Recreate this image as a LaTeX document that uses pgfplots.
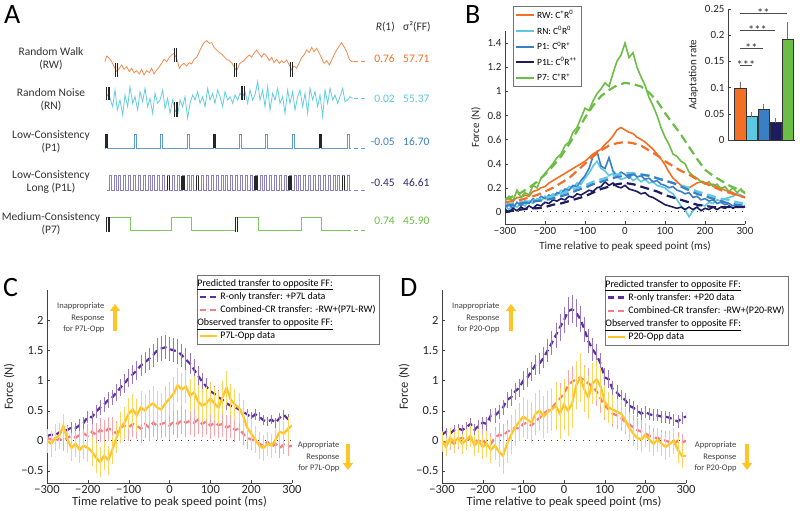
\documentclass[border=0pt]{standalone}
\usepackage{fontspec}
\setmainfont{Carlito}
\usepackage{pgfplots}
\usepackage{pgfplotstable}
\pgfplotsset{compat=1.18}
\usetikzlibrary{arrows.meta}

\definecolor{rwc}{HTML}{F26F25}
\definecolor{rnc}{HTML}{5CC8E4}
\definecolor{p1c}{HTML}{3A7FC6}
\definecolor{p1lc}{HTML}{1C1C5E}
\definecolor{p7c}{HTML}{6CBD45}
\definecolor{rwa}{HTML}{F38A4E}
\definecolor{rna}{HTML}{62CDE3}
\definecolor{p1a}{HTML}{5E9AD6}
\definecolor{p1la}{HTML}{8A80C4}
\definecolor{p7a}{HTML}{7DC95A}
\definecolor{p1lv}{HTML}{2E2A70}
\definecolor{purp}{HTML}{5E2E9E}
\definecolor{pink}{HTML}{F37E86}
\definecolor{yel}{HTML}{FFC425}
\definecolor{axc}{HTML}{404040}

% panel B: measured responses (10 ms) and model fits (20 ms)
\pgfplotstableread{
x rw rn p1 p1l p7
-300 0.10 0.05 0.04 0.02 0.10
-290 0.11 0.02 0.06 0.00 0.13
-280 0.09 0.06 0.03 0.03 0.09
-270 0.12 0.04 0.08 0.01 0.18
-260 0.12 0.07 0.05 0.04 0.12
-250 0.14 0.05 0.09 0.02 0.16
-240 0.13 0.09 0.07 0.05 0.14
-230 0.17 0.07 0.11 0.03 0.22
-220 0.18 0.11 0.09 0.06 0.20
-210 0.20 0.09 0.13 0.05 0.28
-200 0.21 0.13 0.11 0.08 0.32
-190 0.24 0.12 0.14 0.07 0.36
-180 0.26 0.15 0.12 0.10 0.40
-170 0.28 0.14 0.16 0.09 0.45
-160 0.30 0.18 0.15 0.11 0.48
-150 0.32 0.17 0.19 0.10 0.55
-140 0.34 0.21 0.18 0.13 0.58
-130 0.36 0.20 0.22 0.12 0.66
-120 0.38 0.24 0.21 0.15 0.70
-110 0.40 0.23 0.26 0.14 0.78
-100 0.42 0.28 0.30 0.16 0.86
-90 0.45 0.32 0.36 0.18 0.84
-80 0.48 0.38 0.46 0.17 0.92
-70 0.50 0.42 0.50 0.20 0.98
-60 0.52 0.36 0.38 0.21 1.02
-50 0.56 0.34 0.36 0.25 1.07
-40 0.59 0.30 0.45 0.22 1.04
-30 0.63 0.32 0.34 0.24 1.15
-20 0.68 0.29 0.30 0.21 1.25
-10 0.70 0.27 0.33 0.20 1.30
0 0.68 0.28 0.31 0.22 1.40
10 0.66 0.30 0.28 0.19 1.28
20 0.65 0.26 0.32 0.18 1.32
30 0.62 0.28 0.29 0.17 1.20
40 0.60 0.25 0.30 0.15 1.12
50 0.58 0.27 0.27 0.16 1.05
60 0.55 0.24 0.28 0.13 0.95
70 0.52 0.25 0.25 0.12 0.88
80 0.48 0.22 0.26 0.10 0.80
90 0.44 0.21 0.23 0.08 0.70
100 0.39 0.20 0.22 0.06 0.62
110 0.33 0.17 0.20 0.05 0.56
120 0.28 0.15 0.21 0.04 0.48
130 0.25 0.10 0.18 0.03 0.46
140 0.22 0.05 0.17 0.04 0.42
150 0.20 0.02 0.15 0.02 0.40
160 0.20 -0.04 0.16 0.04 0.33
170 0.22 0.01 0.12 0.02 0.30
180 0.24 0.04 0.13 0.04 0.28
190 0.25 0.06 0.10 0.01 0.25
200 0.24 0.05 0.11 0.03 0.23
210 0.22 0.08 0.09 0.02 0.25
220 0.23 0.07 0.10 0.04 0.21
230 0.21 0.10 0.07 0.02 0.23
240 0.20 0.09 0.08 0.04 0.19
250 0.18 0.11 0.06 0.03 0.21
260 0.17 0.12 0.07 0.05 0.17
270 0.16 0.13 0.05 0.03 0.20
280 0.14 0.15 0.06 0.05 0.16
290 0.13 0.14 0.04 0.04 0.19
300 0.12 0.12 0.05 0.04 0.15
}\bdata

\pgfplotstableread{
x rw rn p1 p1l p7
-300 0.08 0.06 0.05 0.00 0.10
-280 0.09 0.07 0.06 0.01 0.13
-260 0.10 0.08 0.07 0.02 0.16
-240 0.12 0.09 0.08 0.03 0.20
-220 0.14 0.10 0.09 0.03 0.25
-200 0.17 0.12 0.10 0.04 0.31
-180 0.20 0.13 0.11 0.06 0.38
-160 0.24 0.15 0.13 0.07 0.46
-140 0.28 0.17 0.15 0.09 0.56
-120 0.34 0.20 0.18 0.11 0.67
-100 0.40 0.22 0.20 0.13 0.78
-80 0.46 0.25 0.23 0.16 0.88
-60 0.51 0.27 0.25 0.19 0.96
-40 0.55 0.29 0.27 0.21 1.01
-20 0.57 0.31 0.29 0.23 1.05
0 0.58 0.32 0.30 0.24 1.07
20 0.57 0.32 0.31 0.23 1.06
40 0.55 0.31 0.31 0.21 1.04
60 0.51 0.30 0.30 0.19 0.99
80 0.47 0.28 0.28 0.17 0.92
100 0.42 0.26 0.26 0.14 0.82
120 0.38 0.24 0.24 0.12 0.73
140 0.34 0.22 0.21 0.10 0.64
160 0.31 0.20 0.18 0.08 0.54
180 0.27 0.17 0.15 0.06 0.44
200 0.24 0.15 0.13 0.05 0.35
220 0.21 0.13 0.11 0.04 0.30
240 0.18 0.11 0.09 0.04 0.26
260 0.16 0.10 0.07 0.04 0.22
280 0.14 0.08 0.06 0.04 0.19
300 0.12 0.07 0.05 0.04 0.16
}\bfit

% panels C and D: x, mean, sem
\pgfplotstableread{
x y e
-300 0.08 0.06
-290 0.10 0.06
-280 0.09 0.07
-270 0.14 0.07
-260 0.16 0.08
-250 0.18 0.08
-240 0.22 0.09
-230 0.21 0.09
-220 0.26 0.10
-210 0.30 0.10
-200 0.40 0.10
-190 0.39 0.11
-180 0.48 0.11
-170 0.55 0.12
-160 0.60 0.12
-150 0.68 0.13
-140 0.72 0.13
-130 0.80 0.14
-120 0.88 0.14
-110 0.95 0.15
-100 1.04 0.15
-90 1.10 0.16
-80 1.17 0.16
-70 1.25 0.17
-60 1.30 0.18
-50 1.36 0.18
-40 1.42 0.19
-30 1.50 0.20
-20 1.53 0.20
-10 1.55 0.20
0 1.52 0.20
10 1.50 0.20
20 1.48 0.20
30 1.42 0.19
40 1.35 0.19
50 1.28 0.18
60 1.18 0.17
70 1.08 0.16
80 0.98 0.15
90 0.90 0.14
100 0.82 0.13
110 0.78 0.12
120 0.72 0.12
130 0.68 0.11
140 0.62 0.11
150 0.58 0.10
160 0.56 0.10
170 0.52 0.10
180 0.48 0.10
190 0.44 0.09
200 0.38 0.09
210 0.44 0.09
220 0.40 0.08
230 0.34 0.08
240 0.32 0.08
250 0.35 0.08
260 0.30 0.08
270 0.38 0.08
280 0.43 0.08
290 0.36 0.08
300 0.34 0.08
}\cpurp

\pgfplotstableread{
x y e
-300 0.05 0.15
-290 0.02 0.15
-280 0.00 0.16
-270 0.03 0.16
-260 0.00 0.17
-250 0.05 0.17
-240 0.08 0.18
-230 0.05 0.18
-220 0.10 0.18
-210 0.12 0.18
-200 0.08 0.19
-190 0.15 0.19
-180 0.10 0.20
-170 0.18 0.20
-160 0.14 0.20
-150 0.20 0.20
-140 0.18 0.21
-130 0.12 0.21
-120 0.22 0.21
-110 0.25 0.22
-100 0.22 0.22
-90 0.28 0.22
-80 0.25 0.22
-70 0.20 0.23
-60 0.28 0.23
-50 0.22 0.23
-40 0.30 0.23
-30 0.25 0.23
-20 0.28 0.23
-10 0.30 0.23
0 0.25 0.23
10 0.32 0.23
20 0.28 0.23
30 0.34 0.23
40 0.30 0.23
50 0.33 0.23
60 0.30 0.23
70 0.35 0.23
80 0.28 0.22
90 0.32 0.22
100 0.25 0.22
110 0.30 0.22
120 0.26 0.21
130 0.28 0.21
140 0.22 0.21
150 0.25 0.20
160 0.18 0.20
170 0.20 0.20
180 0.12 0.19
190 0.05 0.19
200 0.02 0.18
210 0.00 0.18
220 -0.05 0.18
230 -0.08 0.17
240 -0.02 0.17
250 -0.10 0.17
260 -0.05 0.16
270 -0.12 0.16
280 -0.06 0.16
290 -0.10 0.15
300 -0.08 0.15
}\cpink

\pgfplotstableread{
x y e
-300 0.00 0.20
-290 -0.05 0.22
-280 0.05 0.22
-270 0.08 0.22
-260 0.25 0.20
-250 0.02 0.22
-240 -0.12 0.22
-230 -0.05 0.22
-220 -0.15 0.22
-210 -0.08 0.22
-200 -0.12 0.24
-190 -0.18 0.24
-180 -0.28 0.25
-170 -0.35 0.25
-160 -0.25 0.24
-150 -0.32 0.24
-140 -0.15 0.24
-130 0.05 0.25
-120 0.22 0.25
-110 0.30 0.26
-100 0.45 0.26
-90 0.52 0.26
-80 0.42 0.27
-70 0.55 0.27
-60 0.50 0.27
-50 0.58 0.27
-40 0.62 0.28
-30 0.55 0.28
-20 0.52 0.28
-10 0.62 0.28
0 0.70 0.28
10 0.78 0.28
20 0.92 0.28
30 0.85 0.28
40 0.90 0.28
50 0.75 0.28
60 0.80 0.28
70 0.65 0.28
80 0.58 0.28
90 0.62 0.27
100 0.70 0.27
110 0.62 0.27
120 0.55 0.27
130 0.72 0.27
140 0.88 0.28
150 0.68 0.26
160 0.60 0.26
170 0.55 0.25
180 0.42 0.25
190 0.22 0.24
200 0.12 0.24
210 0.02 0.22
220 -0.08 0.22
230 -0.12 0.22
240 -0.05 0.20
250 -0.08 0.20
260 0.02 0.20
270 0.15 0.20
280 0.12 0.20
290 0.20 0.20
300 0.25 0.20
}\cyel

\pgfplotstableread{
x y e
-300 0.10 0.07
-290 0.15 0.07
-280 0.12 0.07
-270 0.18 0.08
-260 0.20 0.08
-250 0.18 0.08
-240 0.22 0.09
-230 0.28 0.09
-220 0.18 0.09
-210 0.25 0.10
-200 0.30 0.10
-190 0.28 0.11
-180 0.42 0.11
-170 0.42 0.12
-160 0.48 0.12
-150 0.55 0.13
-140 0.68 0.13
-130 0.72 0.14
-120 0.82 0.14
-110 0.88 0.15
-100 1.00 0.15
-90 1.05 0.16
-80 1.15 0.16
-70 1.26 0.17
-60 1.28 0.18
-50 1.38 0.18
-40 1.50 0.19
-30 1.62 0.20
-20 1.75 0.21
-10 1.88 0.22
0 2.00 0.22
10 2.15 0.23
20 2.18 0.23
30 2.12 0.23
40 2.02 0.22
50 1.85 0.21
60 1.65 0.20
70 1.52 0.19
80 1.42 0.18
90 1.28 0.17
100 1.05 0.16
110 1.02 0.15
120 0.85 0.14
130 0.80 0.13
140 0.72 0.12
150 0.68 0.12
160 0.58 0.11
170 0.55 0.11
180 0.50 0.10
190 0.45 0.10
200 0.48 0.10
210 0.44 0.10
220 0.42 0.10
230 0.42 0.10
240 0.40 0.10
250 0.40 0.10
260 0.38 0.10
270 0.35 0.10
280 0.32 0.10
290 0.38 0.10
300 0.40 0.10
}\dpurp

\pgfplotstableread{
x y e
-300 -0.05 0.14
-290 -0.02 0.14
-280 0.00 0.15
-270 -0.05 0.15
-260 0.02 0.15
-250 0.05 0.16
-240 0.00 0.16
-230 0.05 0.16
-220 0.02 0.17
-210 -0.02 0.17
-200 0.03 0.17
-190 -0.08 0.18
-180 -0.05 0.18
-170 0.05 0.18
-160 0.10 0.19
-150 0.08 0.19
-140 0.15 0.19
-130 0.18 0.20
-120 0.22 0.20
-110 0.20 0.20
-100 0.28 0.21
-90 0.30 0.21
-80 0.25 0.22
-70 0.32 0.22
-60 0.38 0.22
-50 0.45 0.23
-40 0.50 0.23
-30 0.55 0.24
-20 0.62 0.24
-10 0.70 0.25
0 0.78 0.25
10 0.92 0.26
20 0.98 0.26
30 1.02 0.27
40 1.05 0.27
50 1.00 0.26
60 0.95 0.26
70 0.90 0.26
80 0.82 0.25
90 0.70 0.24
100 0.58 0.24
110 0.52 0.23
120 0.45 0.22
130 0.42 0.22
140 0.38 0.21
150 0.32 0.21
160 0.28 0.20
170 0.22 0.20
180 0.18 0.19
190 0.15 0.19
200 0.12 0.18
210 0.08 0.18
220 0.05 0.17
230 0.05 0.17
240 0.02 0.16
250 0.00 0.16
260 -0.02 0.15
270 -0.05 0.15
280 0.00 0.15
290 -0.03 0.14
300 0.00 0.14
}\dpink

\pgfplotstableread{
x y e
-300 0.00 0.15
-290 -0.10 0.15
-280 0.05 0.16
-270 -0.02 0.16
-260 0.05 0.16
-250 -0.05 0.17
-240 0.02 0.17
-230 0.08 0.18
-220 -0.08 0.18
-210 0.00 0.20
-200 -0.10 0.20
-190 -0.05 0.22
-180 -0.15 0.22
-170 -0.08 0.24
-160 -0.18 0.26
-150 -0.25 0.30
-140 -0.05 0.32
-130 0.10 0.32
-120 0.22 0.30
-110 0.32 0.30
-100 0.40 0.32
-90 0.35 0.32
-80 0.30 0.34
-70 0.45 0.34
-60 0.50 0.34
-50 0.40 0.35
-40 0.48 0.35
-30 0.52 0.36
-20 0.58 0.40
-10 0.45 0.42
0 0.60 0.42
10 0.50 0.42
20 0.62 0.40
30 0.92 0.40
40 1.05 0.40
50 0.85 0.38
60 0.72 0.36
70 0.95 0.34
80 1.02 0.32
90 0.90 0.30
100 0.65 0.28
110 0.55 0.26
120 0.52 0.24
130 0.48 0.22
140 0.45 0.22
150 0.35 0.20
160 0.22 0.20
170 0.12 0.20
180 0.05 0.20
190 0.02 0.20
200 0.10 0.20
210 0.02 0.20
220 -0.05 0.20
230 0.02 0.20
240 -0.05 0.20
250 -0.10 0.22
260 -0.05 0.22
270 0.00 0.22
280 -0.15 0.22
290 -0.25 0.20
300 -0.25 0.20
}\dyel

\pgfplotsset{
  timeaxis/.style={
    scale only axis,
    axis x line*=bottom, axis y line*=left,
    axis line style={axc,-}, tick style={axc},
    tick align=inside, major tick length=3pt,
    xmin=-300, xmax=300,
    xtick={-300,-200,-100,0,100,200,300},
    xticklabels={−300,−200,−100,0,100,200,300},
    /pgf/number format/assume math mode=true,
    ylabel={Force (N)},
    xlabel={Time relative to peak speed point (ms)},
    legend cell align=left,
  },
  zeroline/.style={black!75, line width=0.9pt, dash pattern=on 0.9pt off 5.5pt},
  witherr/.style={error bars/.cd, y dir=both, y explicit,
    error mark=none, error bar style={solid, line width=0.7pt, #1}},
}

\begin{document}
\begin{tikzpicture}
\path[use as bounding box] (0pt,0pt) rectangle (800pt,511pt);

% ---------------- Panel A: perturbation schedules ----------------
\begin{axis}[at={(200pt,386pt)}, anchor=center, width=400pt, height=250pt,
  scale only axis, hide axis, clip=false,
  xmin=0, xmax=1200, ymin=0, ymax=750, y dir=reverse]
% random walk
\addplot[rwa, line width=0.8pt] coordinates {
(315,185)(320,168)(328,175)(335,185)(342,200)(350,215)(358,205)(365,195)(372,208)(380,200)
(388,215)(395,205)(402,218)(410,212)(418,222)(425,208)(432,225)(440,212)(448,218)(455,205)
(462,222)(470,210)(478,200)(485,190)(492,178)(500,185)(508,172)(515,165)(522,160)(530,175)
(538,205)(545,195)(552,190)(560,198)(568,188)(575,192)(582,178)(590,172)(598,155)(605,140)
(612,128)(620,122)(628,130)(635,128)(642,142)(650,150)(658,158)(665,162)(672,170)(680,178)
(688,182)(695,188)(702,200)(710,212)(718,192)(725,186)(732,182)(740,172)(748,165)(755,172)
(762,160)(770,150)(778,162)(785,172)(792,160)(800,168)(808,182)(815,172)(822,188)(830,178)
(838,190)(845,182)(852,188)(860,180)(868,195)(875,210)(882,198)(890,205)(898,188)(905,172)
(912,165)(920,150)(928,158)(935,142)(942,155)(950,145)(958,160)(965,175)(972,190)(980,182)
(988,195)(995,180)(1002,165)(1010,150)(1018,138)(1025,128)(1032,140)(1040,155)(1048,178)
(1055,185)(1070,185)};
% random noise
\addplot[rna, line width=0.8pt] coordinates {
(318,280)(330,295)(338,320)(345,270)(352,330)(360,300)(368,345)(375,285)(383,320)(390,260)
(398,310)(405,290)(413,330)(420,275)(428,305)(435,265)(443,320)(450,295)(458,340)(465,280)
(473,310)(480,300)(488,270)(495,325)(503,295)(510,340)(518,300)(525,330)(533,345)(540,300)
(548,320)(555,290)(563,355)(570,310)(578,285)(585,300)(593,275)(600,310)(608,290)(615,320)
(623,265)(630,300)(638,280)(645,310)(653,270)(660,290)(668,320)(675,275)(683,300)(690,290)
(698,310)(705,285)(713,300)(720,280)(728,290)(735,275)(743,310)(750,270)(758,300)(765,285)
(773,245)(780,300)(788,270)(795,320)(803,260)(810,330)(818,280)(825,300)(833,265)(840,310)
(848,290)(855,340)(863,270)(870,310)(878,275)(885,330)(893,290)(900,270)(908,320)(915,280)
(923,340)(930,265)(938,300)(945,275)(953,320)(960,285)(968,350)(975,270)(983,310)(990,265)
(998,300)(1005,285)(1013,310)(1020,290)(1028,265)(1035,305)(1043,300)(1050,290)(1058,295)};
% P1
\addplot[p1a, line width=0.8pt, const plot] coordinates {
(316,445)(317,403)(323,445)(402,403)(408,445)(482,403)(488,445)(562,403)(568,445)
(639,403)(645,445)(717,403)(723,445)(797,403)(803,445)(877,403)(883,445)(959,403)(965,445)
(1042,403)(1048,445)(1052,445)};
% P1L
\addplot[p1la, line width=0.7pt, const plot] coordinates {
(322,570)(327,527)(333,570)(342,527)(348,570)(356,527)(362,570)(371,527)(377,570)
(385,527)(391,570)(400,527)(406,570)(415,527)(421,570)(429,527)(435,570)(444,527)(450,570)
(458,527)(464,570)(473,527)(479,570)(488,527)(494,570)(502,527)(508,570)(517,527)(523,570)
(531,527)(537,570)(546,527)(552,570)(561,527)(567,570)(575,527)(581,570)(590,527)(596,570)
(604,527)(610,570)(619,527)(625,570)(634,527)(640,570)(648,527)(654,570)(663,527)(669,570)
(677,527)(683,570)(692,527)(698,570)(707,527)(713,570)(721,527)(727,570)(736,527)(742,570)
(750,527)(756,570)(765,527)(771,570)(780,527)(786,570)(794,527)(800,570)(809,527)(815,570)
(823,527)(829,570)(838,527)(844,570)(853,527)(859,570)(867,527)(873,570)(882,527)(888,570)
(896,527)(902,570)(911,527)(917,570)(926,527)(932,570)(940,527)(946,570)(955,527)(961,570)
(969,527)(975,570)(984,527)(990,570)(999,527)(1005,570)(1013,527)(1019,570)(1028,527)(1034,570)
(1042,527)(1048,570)(1052,570)};
% P7
\addplot[p7a, line width=0.8pt, const plot] coordinates {
(318,652)(390,692)(515,652)(575,692)(705,652)(775,692)(905,652)(965,692)(1052,692)};
% trailing dashes
\addplot[rwa, line width=0.8pt, dash pattern=on 3.5pt off 3.5pt] coordinates {(1063,185)(1100,185)};
\addplot[rna, line width=0.8pt, dash pattern=on 3.5pt off 3.5pt] coordinates {(1063,296)(1100,296)};
\addplot[p1a, line width=0.8pt, dash pattern=on 3.5pt off 3.5pt] coordinates {(1063,445)(1100,445)};
\addplot[p1la, line width=0.8pt, dash pattern=on 3.5pt off 3.5pt] coordinates {(1063,570)(1100,570)};
\addplot[p7a, line width=0.8pt, dash pattern=on 3.5pt off 3.5pt] coordinates {(1063,692)(1100,692)};
% channel trials
\addplot[black!85, line width=1.1pt, unbounded coords=jump] coordinates {
(347,190)(347,230)(350,nan)(353,190)(353,230)(350,nan)
(524,145)(524,185)(350,nan)(530,145)(530,185)(350,nan)
(703,190)(703,230)(350,nan)(709,190)(709,230)(350,nan)
(871,187)(871,230)(350,nan)(877,187)(877,230)(350,nan)
(320,262)(320,300)(350,nan)(327,262)(327,300)(350,nan)
(523,305)(523,350)(350,nan)(531,305)(531,350)(350,nan)
(726,258)(726,300)(350,nan)(733,258)(733,300)(350,nan)
(318,403)(318,445)(350,nan)(323,403)(323,445)(350,nan)
(640,403)(640,445)(350,nan)(645,403)(645,445)(350,nan)
(960,403)(960,445)(350,nan)(965,403)(965,445)(350,nan)
(502,527)(502,570)(350,nan)(508,527)(508,570)(350,nan)
(546,527)(546,570)(350,nan)(552,527)(552,570)(350,nan)
(590,527)(590,570)(350,nan)(596,527)(596,570)(350,nan)
(765,527)(765,570)(350,nan)(771,527)(771,570)(350,nan)
(867,527)(867,570)(350,nan)(873,527)(873,570)(350,nan)
(1028,527)(1028,570)(350,nan)(1034,527)(1034,570)(350,nan)
(320,650)(320,695)(350,nan)(327,650)(327,695)(350,nan)
(706,650)(706,695)(350,nan)(713,650)(713,695)};
\end{axis}

\begin{scope}[font=\fontsize{11.5}{13}\selectfont, text=black!80]
\node[anchor=north west, inner sep=0pt, font=\fontsize{28}{28}\selectfont, text=black] at (4pt,506pt) {A};
\node[align=center] at (51pt,452pt) {Random Walk\\(RW)};
\node[align=center] at (51pt,411pt) {Random Noise\\(RN)};
\node[align=center] at (51pt,369pt) {Low-Consistency\\(P1)};
\node[align=center] at (51pt,329pt) {Low-Consistency\\Long (P1L)};
\node[align=center] at (51pt,287pt) {Medium-Consistency\\(P7)};
\node[anchor=east, inner sep=0pt] at (395pt,484pt) {\textit{R}(1)};
\node[anchor=west, inner sep=0pt] at (403pt,484pt) {σ²(FF)};
\node[anchor=east, inner sep=0pt, text=rwc] at (395pt,452pt) {0.76};
\node[anchor=east, inner sep=0pt, text=rnc] at (395pt,412pt) {0.02};
\node[anchor=east, inner sep=0pt, text=p1c] at (395pt,369pt) {-0.05};
\node[anchor=east, inner sep=0pt, text=p1lv] at (395pt,328pt) {-0.45};
\node[anchor=east, inner sep=0pt, text=p7c] at (395pt,290pt) {0.74};
\node[anchor=west, inner sep=0pt, text=rwc] at (403pt,452pt) {57.71};
\node[anchor=west, inner sep=0pt, text=rnc] at (403pt,412pt) {55.37};
\node[anchor=west, inner sep=0pt, text=p1c] at (403pt,369pt) {16.70};
\node[anchor=west, inner sep=0pt, text=p1lv] at (403pt,328pt) {46.61};
\node[anchor=west, inner sep=0pt, text=p7c] at (403pt,290pt) {45.90};
\end{scope}

% ---------------- Panel B: force profiles ----------------
\begin{axis}[timeaxis, at={(505pt,287pt)}, anchor=south west,
  width=240pt, height=193pt, ymin=-0.1, ymax=1.5,
  ytick={0,0.2,0.4,0.6,0.8,1,1.2,1.4},
  yticklabels={0,0.2,0.4,0.6,0.8,1,1.2,1.4},
  tick label style={font=\fontsize{11}{12}\selectfont, text=black!85},
  label style={font=\fontsize{11}{12}\selectfont, text=black!85},
  legend image code/.code={\draw[#1] (0pt,0pt) -- (18pt,0pt);},
  legend style={at={(axis description cs:0.033,1.13)}, anchor=north west,
    draw=black!55, font=\fontsize{9.5}{11}\selectfont, row sep=2.2pt,
    inner sep=2pt}]
\addplot[zeroline, forget plot] coordinates {(-300,0)(300,0)};
\addplot[rnc, line width=1.6pt, forget plot] table[x=x,y=rn] {\bdata};
\addplot[p1c, line width=1.6pt, forget plot] table[x=x,y=p1] {\bdata};
\addplot[p1lc, line width=1.6pt, forget plot] table[x=x,y=p1l] {\bdata};
\addplot[rwc, line width=1.6pt, forget plot] table[x=x,y=rw] {\bdata};
\addplot[p7c, line width=1.6pt, forget plot] table[x=x,y=p7] {\bdata};
\addplot[rwc, line width=2.2pt, dash pattern=on 9pt off 5pt, forget plot] table[x=x,y=rw] {\bfit};
\addplot[rnc, line width=2.2pt, dash pattern=on 9pt off 5pt, forget plot] table[x=x,y=rn] {\bfit};
\addplot[p1c, line width=2.2pt, dash pattern=on 9pt off 5pt, forget plot] table[x=x,y=p1] {\bfit};
\addplot[p1lc, line width=2.2pt, dash pattern=on 9pt off 5pt, forget plot] table[x=x,y=p1l] {\bfit};
\addplot[p7c, line width=2.2pt, dash pattern=on 9pt off 5pt, forget plot] table[x=x,y=p7] {\bfit};
\addlegendimage{rwc, line width=2pt}\addlegendentry{RW: C\textsuperscript{+}R\textsuperscript{0}}
\addlegendimage{rnc, line width=2pt}\addlegendentry{RN: C\textsuperscript{0}R\textsuperscript{0}}
\addlegendimage{p1c, line width=2pt}\addlegendentry{P1: C\textsuperscript{0}R\textsuperscript{+}}
\addlegendimage{p1lc, line width=2pt}\addlegendentry{P1L: C\textsuperscript{0}R\textsuperscript{++}}
\addlegendimage{p7c, line width=2pt}\addlegendentry{P7: C\textsuperscript{+}R\textsuperscript{+}}
\end{axis}
\node[anchor=north west, inner sep=0pt, font=\fontsize{28}{28}\selectfont] at (465pt,506pt) {B};

% inset: adaptation rates
\begin{axis}[at={(728pt,371pt)}, anchor=south west, width=67pt, height=131pt,
  scale only axis, axis x line*=bottom, axis y line*=left,
  axis line style={axc,-}, tick style={axc}, tick align=inside, major tick length=3pt,
  xmin=0, xmax=5.6, ymin=0, ymax=0.25, xtick=\empty,
  ytick={0,0.05,0.1,0.15,0.2,0.25}, yticklabels={0,0.05,0.1,0.15,0.2,0.25},
  tick label style={font=\fontsize{11}{12}\selectfont, text=black!85},
  ylabel={Adaptation rate}, ylabel style={font=\fontsize{11}{12}\selectfont, text=black!85},
  clip=false]
\addplot[ybar, bar shift=0pt, bar width=0.96, fill=rwc, draw=black!80,
  error bars/.cd, y dir=plus, y explicit, error mark=none, error bar style={black!55, line width=0.9pt}]
  coordinates {(1,0.0989) +- (0,0.011)};
\addplot[ybar, bar shift=0pt, bar width=0.96, fill=rnc, draw=black!80,
  error bars/.cd, y dir=plus, y explicit, error mark=none, error bar style={black!55, line width=0.9pt}]
  coordinates {(2,0.0446) +- (0,0.0083)};
\addplot[ybar, bar shift=0pt, bar width=0.96, fill=p1c, draw=black!80,
  error bars/.cd, y dir=plus, y explicit, error mark=none, error bar style={black!55, line width=0.9pt}]
  coordinates {(3,0.0593) +- (0,0.0097)};
\addplot[ybar, bar shift=0pt, bar width=0.96, fill=p1lc, draw=black!80,
  error bars/.cd, y dir=plus, y explicit, error mark=none, error bar style={black!55, line width=0.9pt}]
  coordinates {(4,0.0332) +- (0,0.0083)};
\addplot[ybar, bar shift=0pt, bar width=0.96, fill=p7c, draw=black!80,
  error bars/.cd, y dir=plus, y explicit, error mark=none, error bar style={black!55, line width=0.9pt}]
  coordinates {(5,0.193) +- (0,0.032)};
\addplot[black!70, line width=0.7pt] coordinates {(1,0.1416)(2,0.1416)};
\addplot[black!70, line width=0.7pt] coordinates {(1,0.1740)(2.92,0.1740)};
\addplot[black!70, line width=0.7pt] coordinates {(1,0.2085)(3.93,0.2085)};
\addplot[black!70, line width=0.7pt] coordinates {(1,0.2420)(4.93,0.2420)};
\node[anchor=base, inner sep=0pt, font=\fontsize{12.5}{12.5}\selectfont, text=black!80] at (axis cs:1.5,0.1340) {***};
\node[anchor=base, inner sep=0pt, font=\fontsize{12.5}{12.5}\selectfont, text=black!80] at (axis cs:1.96,0.1664) {**};
\node[anchor=base, inner sep=0pt, font=\fontsize{12.5}{12.5}\selectfont, text=black!80] at (axis cs:2.46,0.2009) {***};
\node[anchor=base, inner sep=0pt, font=\fontsize{12.5}{12.5}\selectfont, text=black!80] at (axis cs:2.96,0.2344) {**};
\end{axis}

% ---------------- Panel C ----------------
\begin{axis}[timeaxis, at={(47pt,28pt)}, anchor=south west,
  width=245pt, height=193pt, ymin=-0.7, ymax=2.5,
  ytick={-0.5,0,0.5,1,1.5,2}, yticklabels={−0.5,0,0.5,1,1.5,2},
  tick label style={font=\fontsize{12.5}{13}\selectfont, text=black!85},
  label style={font=\fontsize{12.5}{13}\selectfont, text=black!85},
  xticklabel style={yshift=1pt},
  xlabel style={yshift=4pt},
  legend image code/.code={\draw[#1] (0pt,0pt) -- (17pt,0pt);},
  legend style={at={(axis description cs:0.612,1.077)}, anchor=north west,
    draw=black!55, font=\fontsize{10}{11.5}\selectfont, row sep=0.6pt,
    inner sep=2pt}]
\addplot[zeroline, forget plot] coordinates {(-300,0)(300,0)};
\addplot[pink, line width=2.2pt, dash pattern=on 6pt off 4pt, forget plot,
  witherr={pink!70}] table[x=x,y=y,y error=e] {\cpink};
\addplot[purp, line width=2.2pt, dash pattern=on 6pt off 4pt, forget plot,
  witherr={purp!65}] table[x=x,y=y,y error=e] {\cpurp};
\addplot[yel, line width=2.2pt, forget plot,
  witherr={yel!75}] table[x=x,y=y,y error=e] {\cyel};
\addlegendimage{empty legend}\addlegendentry{\hspace{-23pt}\underline{Predicted transfer to opposite FF:}}
\addlegendimage{purp, line width=2.2pt, dash pattern=on 6pt off 4pt}\addlegendentry{R-only transfer: +P7L data}
\addlegendimage{pink, line width=2.2pt, dash pattern=on 6pt off 4pt}\addlegendentry{Combined-CR transfer: -RW+(P7L-RW)}
\addlegendimage{empty legend}\addlegendentry{\hspace{-23pt}\underline{Observed transfer to opposite FF:}}
\addlegendimage{yel, line width=2.2pt}\addlegendentry{P7L-Opp data}
\end{axis}
\node[anchor=north west, inner sep=0pt, font=\fontsize{28}{28}\selectfont] at (3pt,233pt) {C};

% ---------------- Panel D ----------------
\begin{axis}[timeaxis, at={(442pt,28pt)}, anchor=south west,
  width=244pt, height=193pt, ymin=-0.7, ymax=2.5,
  ytick={-0.5,0,0.5,1,1.5,2}, yticklabels={−0.5,0,0.5,1,1.5,2},
  tick label style={font=\fontsize{12.5}{13}\selectfont, text=black!85},
  label style={font=\fontsize{12.5}{13}\selectfont, text=black!85},
  xticklabel style={yshift=1pt},
  xlabel style={yshift=4pt},
  legend image code/.code={\draw[#1] (0pt,0pt) -- (17pt,0pt);},
  legend style={at={(axis description cs:0.668,1.072)}, anchor=north west,
    draw=black!55, font=\fontsize{10}{11.5}\selectfont, row sep=0.6pt,
    inner sep=2pt}]
\addplot[zeroline, forget plot] coordinates {(-300,0)(300,0)};
\addplot[pink, line width=2.2pt, dash pattern=on 6pt off 4pt, forget plot,
  witherr={pink!70}] table[x=x,y=y,y error=e] {\dpink};
\addplot[purp, line width=2.2pt, dash pattern=on 6pt off 4pt, forget plot,
  witherr={purp!65}] table[x=x,y=y,y error=e] {\dpurp};
\addplot[yel, line width=2.2pt, forget plot,
  witherr={yel!75}] table[x=x,y=y,y error=e] {\dyel};
\addlegendimage{empty legend}\addlegendentry{\hspace{-23pt}\underline{Predicted transfer to opposite FF:}}
\addlegendimage{purp, line width=2.2pt, dash pattern=on 6pt off 4pt}\addlegendentry{R-only transfer: +P20 data}
\addlegendimage{pink, line width=2.2pt, dash pattern=on 6pt off 4pt}\addlegendentry{Combined-CR transfer: -RW+(P20-RW)}
\addlegendimage{empty legend}\addlegendentry{\hspace{-23pt}\underline{Observed transfer to opposite FF:}}
\addlegendimage{yel, line width=2.2pt}\addlegendentry{P20-Opp data}
\end{axis}
\node[anchor=north west, inner sep=0pt, font=\fontsize{28}{28}\selectfont] at (400pt,233pt) {D};

% annotations for C and D
\begin{scope}[font=\fontsize{8.5}{11.5}\selectfont]
\node[anchor=east, align=right, text=black!75] at (108pt,193pt) {Inappropriate\\Response\\for P7L-Opp};
\node[anchor=east, align=right, text=black!75] at (343pt,54pt) {Appropriate\\Response\\for P7L-Opp};
\node[anchor=east, align=right, text=black!75] at (503pt,193pt) {Inappropriate\\Response\\for P20-Opp};
\node[anchor=east, align=right, text=black!75] at (740pt,54pt) {Appropriate\\Response\\for P20-Opp};
\end{scope}
\begin{scope}[yel, line width=4.5pt]
\draw[-{Triangle[width=10pt,length=7pt]}] (115pt,180pt) -- (115pt,207pt);
\draw[-{Triangle[width=10pt,length=7pt]}] (348pt,67pt) -- (348pt,41pt);
\draw[-{Triangle[width=10pt,length=7pt]}] (511pt,180pt) -- (511pt,207pt);
\draw[-{Triangle[width=10pt,length=7pt]}] (747pt,67pt) -- (747pt,41pt);
\end{scope}
\end{tikzpicture}
\end{document}
